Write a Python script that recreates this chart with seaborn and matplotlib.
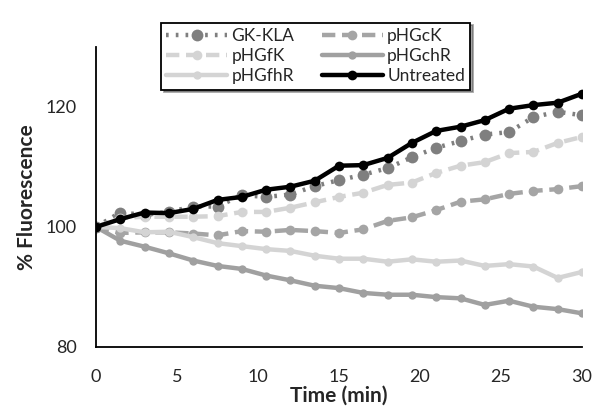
import numpy as np
import pandas as pd
import seaborn as sns
import matplotlib.pyplot as plt

time_min = [0, 1.5, 3, 4.5, 6, 7.5, 9, 10.5, 12, 13.5, 15, 16.5, 18, 19.5, 21, 22.5, 24, 25.5, 27, 28.5, 30]

gk_kla = [100, 102.4, 102.0, 102.5, 103.4, 103.4, 105.3, 105.0, 105.4, 106.8, 107.8, 108.7, 109.8, 111.6, 113.2, 114.3, 115.4, 115.8, 118.3, 119.2, 118.6]
phgck = [100, 99.0, 99.1, 99.1, 98.9, 98.6, 99.3, 99.2, 99.5, 99.3, 99.0, 99.6, 101.0, 101.6, 102.8, 104.2, 104.6, 105.5, 106.0, 106.3, 106.8]
phgfk = [100, 101.5, 101.7, 101.7, 101.7, 101.8, 102.5, 102.5, 103.2, 104.1, 105.0, 105.7, 107.0, 107.4, 109.0, 110.2, 110.8, 112.3, 112.5, 114.0, 115.0]
phgchr = [100, 97.7, 96.7, 95.6, 94.4, 93.5, 93.0, 91.9, 91.1, 90.2, 89.8, 89.0, 88.7, 88.7, 88.3, 88.1, 87.0, 87.7, 86.7, 86.3, 85.6]
phgfhr = [100, 99.8, 99.1, 99.2, 98.3, 97.3, 96.8, 96.3, 96.0, 95.2, 94.7, 94.7, 94.2, 94.6, 94.2, 94.4, 93.5, 93.8, 93.4, 91.5, 92.5]
untreated = [100, 101.3, 102.4, 102.3, 103.0, 104.5, 105.0, 106.2, 106.7, 107.7, 110.2, 110.3, 111.5, 114.0, 116.0, 116.7, 117.8, 119.7, 120.3, 120.7, 122.2]

series = {
    'GK-KLA': gk_kla,
    'pHGcK': phgck,
    'pHGfK': phgfk,
    'pHGchR': phgchr,
    'pHGfhR': phgfhr,
    'Untreated': untreated,
}

# colour, linestyle, line width, marker size
styles = {
    'GK-KLA': ('#7f7f7f', (0, (0.6, 1.6)), 3.2, 8.5),
    'pHGcK': ('#a5a5a5', (0, (3, 1.5)), 3.2, 7),
    'pHGfK': ('#d4d4d4', (0, (3, 1.5)), 3.2, 7),
    'pHGchR': ('#a0a0a0', '-', 3.2, 6),
    'pHGfhR': ('#d4d4d4', '-', 3.2, 6),
    'Untreated': ('#000000', '-', 3.2, 7),
}

sns.set_style("white")
plt.rcParams['font.family'] = ['Lato', 'DejaVu Sans']

fig = plt.figure(figsize=(6, 4.15), dpi=100)
ax = fig.add_axes([0.16, 0.164, 0.81, 0.723])

df = pd.DataFrame(series)
df['time'] = time_min

for name in series:
    color, ls, lw, ms = styles[name]
    sns.lineplot(data=df, x='time', y=name, ax=ax, color=color, linestyle=ls,
                 linewidth=lw, marker='o', markersize=ms, markeredgewidth=0,
                 label=name)

ax.set_xlim(0, 30)
ax.set_ylim(80, 130)
ax.set_xticks([0, 5, 10, 15, 20, 25, 30])
ax.set_yticks([80, 100, 120])
ax.tick_params(axis='both', length=0, labelsize=13)
ax.tick_params(axis='y', pad=14)
ax.tick_params(axis='x', pad=16)
for side in ['top', 'right']:
    ax.spines[side].set_visible(False)
for side in ['left', 'bottom']:
    ax.spines[side].set_color('black')
    ax.spines[side].set_linewidth(1.3)

ax.set_xlabel('Time (min)', fontsize=15, fontweight='bold', labelpad=0)
ax.set_ylabel('% Fluorescence', fontsize=15, fontweight='bold', labelpad=6)

# legend: two columns, filled column by column
handles, labels = ax.get_legend_handles_labels()
lookup = dict(zip(labels, handles))
order = ['GK-KLA', 'pHGfK', 'pHGfhR', 'pHGcK', 'pHGchR', 'Untreated']
leg = ax.legend([lookup[o] for o in order], order, ncol=2, loc='upper center',
                bbox_to_anchor=(0.452, 1.11), fontsize=12.5, frameon=True,
                fancybox=False, edgecolor='black', handlelength=3.5,
                columnspacing=1.6, handletextpad=0.25, borderpad=0.3,
                labelspacing=0.25, shadow=True)
leg.get_frame().set_linewidth(1.3)

fig.savefig('out.png', dpi=100)
